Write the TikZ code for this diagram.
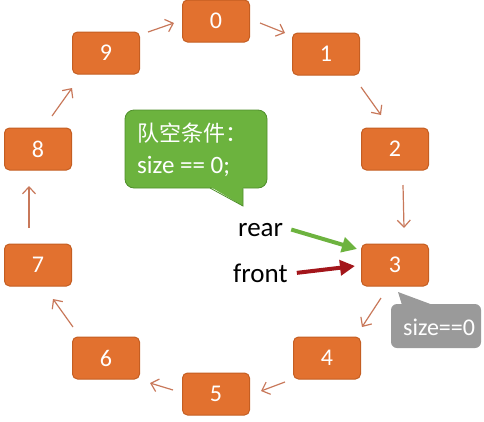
\documentclass[tikz,border=0pt]{standalone}
\usepackage{fontspec}
\setmainfont{Carlito}
\newfontfamily\cjk{Noto Sans CJK SC}
\usetikzlibrary{arrows.meta,calc}
\definecolor{boxfill}{HTML}{E2712F}
\definecolor{boxline}{HTML}{C45E22}
\definecolor{linkc}{HTML}{C8785A}
\definecolor{callg}{HTML}{6CB33E}
\definecolor{callgline}{HTML}{4F8F2B}
\definecolor{callgray}{HTML}{9A9A9A}
\definecolor{reararrow}{HTML}{6DB33F}
\definecolor{frontarrow}{HTML}{A3161B}
\begin{document}
\begin{tikzpicture}[x=1pt,y=-1pt,
  qbox/.style={draw=boxline, line width=1pt, fill=boxfill, rounded corners=5pt,
    minimum width=67pt, minimum height=42pt, inner sep=0pt, text=white,
    font=\fontsize{24}{24}\selectfont},
  link/.style={draw=linkc, line width=1.2pt, -{Straight Barb[length=7pt,width=13pt]}},
  ptr/.style={line width=4pt, -{Triangle[length=15pt,width=15pt]}},
  calltext/.style={anchor=base west, inner sep=0pt, text=white},
  label/.style={anchor=base west, inner sep=0pt, text=black, font=\fontsize{27}{27}\selectfont},
]
\useasboundingbox (0,0) rectangle (484,421);

% queue cells
\node[qbox] (b0) at (216,21) {0};
\node[qbox] (b1) at (326,54) {1};
\node[qbox] (b2) at (395,149) {2};
\node[qbox] (b3) at (395,265) {3};
\node[qbox] (b4) at (327,358) {4};
\node[qbox] (b5) at (216,394) {5};
\node[qbox] (b6) at (106,358) {6};
\node[qbox] (b7) at (38,265) {7};
\node[qbox] (b8) at (38,149) {8};
\node[qbox] (b9) at (106,53) {9};

% ring links
\draw[link] ($(b9)+(42,-21)$) -- ($(b0)+(-42,2)$);
\draw[link] ($(b0)+(44,2)$) -- ($(b1)+(-41,-21)$);
\draw[link] ($(b1)+(35,33)$) -- ($(b2)+(-14,-34)$);
\draw[link] ($(b2)+(8,36)$) -- ($(b3)+(9,-37)$);
\draw[link] ($(b3)+(-14,33)$) -- ($(b4)+(35,-31)$);
\draw[link] ($(b4)+(-42,24)$) -- ($(b5)+(45,-3)$);
\draw[link] ($(b5)+(-43,-4)$) -- ($(b6)+(44,25)$);
\draw[link] ($(b6)+(-33,-31)$) -- ($(b7)+(15,34)$);
\draw[link] ($(b7)+(-9,-37)$) -- ($(b8)+(-9,37)$);
\draw[link] ($(b8)+(14,-33)$) -- ($(b9)+(-34,35)$);

% green callout
\draw[fill=callg, draw=callgline, line width=0.8pt, rounded corners=9pt] (125,110) rectangle (267,188);
\fill[callg] (210,186.5) -- (243,186.5) -- (243,206) -- cycle;
\draw[callgline, line width=0.8pt] (210,188) -- (243,206) -- (243,188.4);
\node[calltext, font=\cjk\fontsize{22}{22}\selectfont] (cond1) at (137,141) {队空条件：};
\node[calltext, font=\fontsize{25}{25}\selectfont] (cond2) at (137,173) {size == 0;};

% gray callout
\fill[callgray, rounded corners=6pt] (391,304) rectangle (481,348);
\fill[callgray] (398,292) -- (402,305) -- (433,305) -- cycle;
\node[calltext, font=\fontsize{24}{24}\selectfont] (gsize) at (403,335) {size==0};

% pointers
\node[label] (rear) at (238,236) {rear};
\node[label] (front) at (233,282) {front};
\draw[ptr, reararrow] ($(rear.east)+(8,0)$) -- ($(b3.west)+(-4,-16)$);
\draw[ptr, frontarrow] ($(front.east)+(9,0)$) -- ($(b3.west)+(-6,1)$);
\end{tikzpicture}
\end{document}
